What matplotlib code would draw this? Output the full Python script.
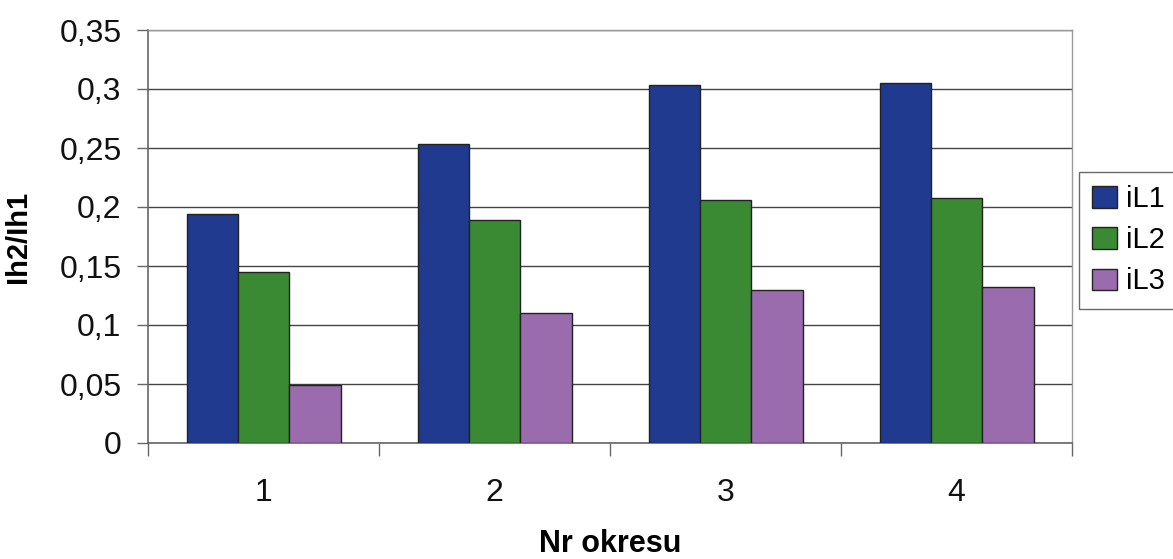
import matplotlib
matplotlib.use("Agg")
import matplotlib.pyplot as plt
import numpy as np

periods = ["1", "2", "3", "4"]
series_names = ["iL1", "iL2", "iL3"]
il1 = [0.194, 0.253, 0.303, 0.305]
il2 = [0.145, 0.189, 0.206, 0.208]
il3 = [0.049, 0.110, 0.130, 0.132]
y_ticks = [0, 0.05, 0.1, 0.15, 0.2, 0.25, 0.3, 0.35]
y_tick_labels = ["0", "0,05", "0,1", "0,15", "0,2", "0,25", "0,3", "0,35"]

colors = ["#1f3a8f", "#3a8a34", "#9a6cae"]

plt.rcParams["font.family"] = ["Liberation Sans", "DejaVu Sans"]

fig = plt.figure(figsize=(11.73, 5.59), dpi=100)
ax = fig.add_axes([148 / 1173, 1 - 443 / 559, (1072 - 148) / 1173, (443 - 30) / 559])

x = np.arange(len(periods))
width = 1 / 4.5  # gap between groups is 1.5 bar widths
for i, (name, vals) in enumerate(zip(series_names, [il1, il2, il3])):
    ax.bar(x + (i - 1) * width, vals, width, color=colors[i],
           edgecolor="#222222", linewidth=1.0, label=name, zorder=3)

ax.set_xlim(-0.5, len(periods) - 0.5)
ax.set_ylim(0, 0.35)

ax.set_yticks(y_ticks)
ax.set_yticklabels(y_tick_labels)
ax.yaxis.grid(True, color="#444444", linewidth=1.0, zorder=0)
ax.tick_params(axis="y", direction="out", length=8, width=1, color="#666666",
               labelsize=23, pad=11, labelcolor="#111111")

# tick marks between categories, labels centred under each group
ax.set_xticks(np.arange(len(periods) + 1) - 0.5)
ax.set_xticklabels([])
ax.set_xticks(x, minor=True)
ax.set_xticklabels(periods, minor=True)
ax.tick_params(axis="x", which="major", direction="out", length=9, width=1, color="#666666")
ax.tick_params(axis="x", which="minor", length=0, labelsize=23, pad=25, labelcolor="#111111")

for side in ["left", "bottom"]:
    ax.spines[side].set_color("#666666")
    ax.spines[side].set_linewidth(1.2)
for side in ["top", "right"]:
    ax.spines[side].set_color("#999999")
    ax.spines[side].set_linewidth(1.0)

ax.set_ylabel("Ih2/Ih1", fontsize=21, fontweight="bold")
ax.yaxis.set_label_coords(-0.125, 0.5)
fig.text((148 + 1072) / 2 / 1173, 1 - 544 / 559, "Nr okresu", fontsize=22,
         fontweight="bold", ha="center", va="center")

leg = fig.legend(loc="upper left", bbox_to_anchor=(1079 / 1173, 1 - 172 / 559),
                 fontsize=21, frameon=True, fancybox=False, handlelength=0.85,
                 handleheight=0.75, handletextpad=0.3, labelspacing=0.45,
                 borderpad=0.45, borderaxespad=0)
leg.get_frame().set_edgecolor("#444444")
leg.get_frame().set_linewidth(1.0)

fig.savefig("out.png", dpi=100, facecolor="white")
